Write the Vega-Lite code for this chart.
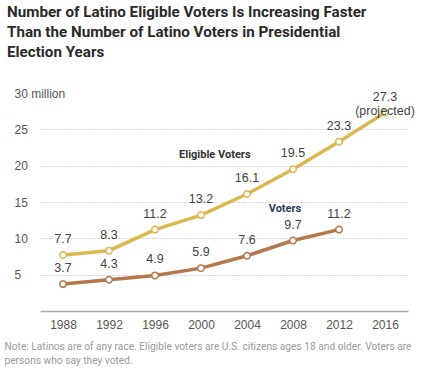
{
  "$schema": "https://vega.github.io/schema/vega-lite/v6.json",
  "autosize": "none",
  "width": 368,
  "height": 218,
  "padding": {"left": 40, "top": 93, "right": 13, "bottom": 66},
  "background": "white",
  "title": {
    "text": ["Number of Latino Eligible Voters Is Increasing Faster", "Than the Number of Latino Voters in Presidential", "Election Years"],
    "anchor": "start",
    "frame": "group",
    "dx": -33,
    "offset": 27,
    "font": "Roboto, sans-serif",
    "fontSize": 15.2,
    "fontWeight": "bold",
    "lineHeight": 20,
    "color": "#2a2a2a"
  },
  "config": {
    "view": {"stroke": null},
    "font": "Liberation Sans"
  },
  "datasets": {
    "main": [
      {"series": "Eligible Voters", "year": 1988, "value": 7.7, "label": "7.7"},
      {"series": "Eligible Voters", "year": 1992, "value": 8.3, "label": "8.3"},
      {"series": "Eligible Voters", "year": 1996, "value": 11.2, "label": "11.2"},
      {"series": "Eligible Voters", "year": 2000, "value": 13.2, "label": "13.2"},
      {"series": "Eligible Voters", "year": 2004, "value": 16.1, "label": "16.1"},
      {"series": "Eligible Voters", "year": 2008, "value": 19.5, "label": "19.5"},
      {"series": "Eligible Voters", "year": 2012, "value": 23.3, "label": "23.3"},
      {"series": "Eligible Voters", "year": 2016, "value": 27.3, "label": "27.3\n(projected)"},
      {"series": "Voters", "year": 1988, "value": 3.7, "label": "3.7"},
      {"series": "Voters", "year": 1992, "value": 4.3, "label": "4.3"},
      {"series": "Voters", "year": 1996, "value": 4.9, "label": "4.9"},
      {"series": "Voters", "year": 2000, "value": 5.9, "label": "5.9"},
      {"series": "Voters", "year": 2004, "value": 7.6, "label": "7.6"},
      {"series": "Voters", "year": 2008, "value": 9.7, "label": "9.7"},
      {"series": "Voters", "year": 2012, "value": 11.2, "label": "11.2"}
    ],
    "names": [
      {"series": "Eligible Voters", "year": 2001.2, "value": 21.45},
      {"series": "Voters", "year": 2007.3, "value": 14.0}
    ]
  },
  "data": {"name": "main"},
  "encoding": {
    "x": {
      "field": "year",
      "type": "quantitative",
      "scale": {"domain": [1986, 2018], "nice": false, "zero": false},
      "axis": {
        "values": [1988, 1992, 1996, 2000, 2004, 2008, 2012, 2016],
        "format": "d",
        "grid": false,
        "ticks": false,
        "domainColor": "#aaaaaa",
        "domainWidth": 1.5,
        "labelFontSize": 12,
        "labelColor": "#555555",
        "labelPadding": 8,
        "labelFlush": false,
        "title": ["Note: Latinos are of any race. Eligible voters are U.S. citizens ages 18 and older. Voters are", "persons who say they voted."],
        "titleX": -36,
        "titleY": 30,
        "titleAlign": "left",
        "titleAnchor": "start",
        "titleBaseline": "top",
        "titleFont": "Roboto, sans-serif",
        "titleFontSize": 10.2,
        "titleFontWeight": "normal",
        "titleColor": "#9a9a9a",
        "titleLineHeight": 14
      }
    },
    "y": {
      "field": "value",
      "type": "quantitative",
      "scale": {"domain": [0, 30], "nice": false},
      "axis": {
        "values": [5, 10, 15, 20, 25, 30],
        "labelExpr": "datum.value == 30 ? '30 million' : (datum.value < 10 ? '\u2007' + datum.label : datum.label)",
        "labelAlign": "left",
        "labelPadding": 26,
        "domain": false,
        "ticks": false,
        "grid": true,
        "gridDash": [1, 2],
        "gridColor": "#b0b0b0",
        "gridWidth": 1,
        "gridOpacity": {"condition": {"test": "datum.value == 30", "value": 0}, "value": 1},
        "labelFontSize": 12,
        "labelColor": "#555555",
        "title": null
      }
    },
    "color": {
      "field": "series",
      "type": "nominal",
      "scale": {"domain": ["Eligible Voters", "Voters"], "range": ["#DCB851", "#B5774C"]},
      "legend": null
    }
  },
  "layer": [
    {
      "data": {"values": [{}]},
      "mark": {"type": "rule", "strokeDash": [1, 2], "strokeWidth": 1},
      "encoding": {
        "y": {"datum": 30},
        "x": {"datum": 1989.05},
        "x2": {"datum": 2018},
        "color": {"value": "#b0b0b0"}
      }
    },
    {"mark": {"type": "line", "strokeWidth": 3.5}},
    {"mark": {"type": "point", "filled": true, "fill": "white", "size": 42, "strokeWidth": 1.5, "opacity": 1}, "encoding": {"stroke": {"field": "series", "type": "nominal", "scale": {"domain": ["Eligible Voters", "Voters"], "range": ["#DCB851", "#B5774C"]}, "legend": null}}},
    {
      "mark": {"type": "text", "baseline": "bottom", "dy": -9, "fontSize": 12.5, "lineBreak": "\n", "lineHeight": 14},
      "encoding": {"text": {"field": "label"}, "color": {"value": "#444444"}}
    },
    {
      "data": {"name": "names"},
      "mark": {"type": "text", "font": "Roboto, sans-serif", "fontWeight": "bold", "fontSize": 11, "baseline": "middle"},
      "encoding": {
        "text": {"field": "series"},
        "color": {"field": "series", "type": "nominal", "scale": {"domain": ["Eligible Voters", "Voters"], "range": ["#333333", "#2b3a58"]}, "legend": null}
      }
    }
  ],
  "resolve": {"scale": {"color": "independent"}}
}
